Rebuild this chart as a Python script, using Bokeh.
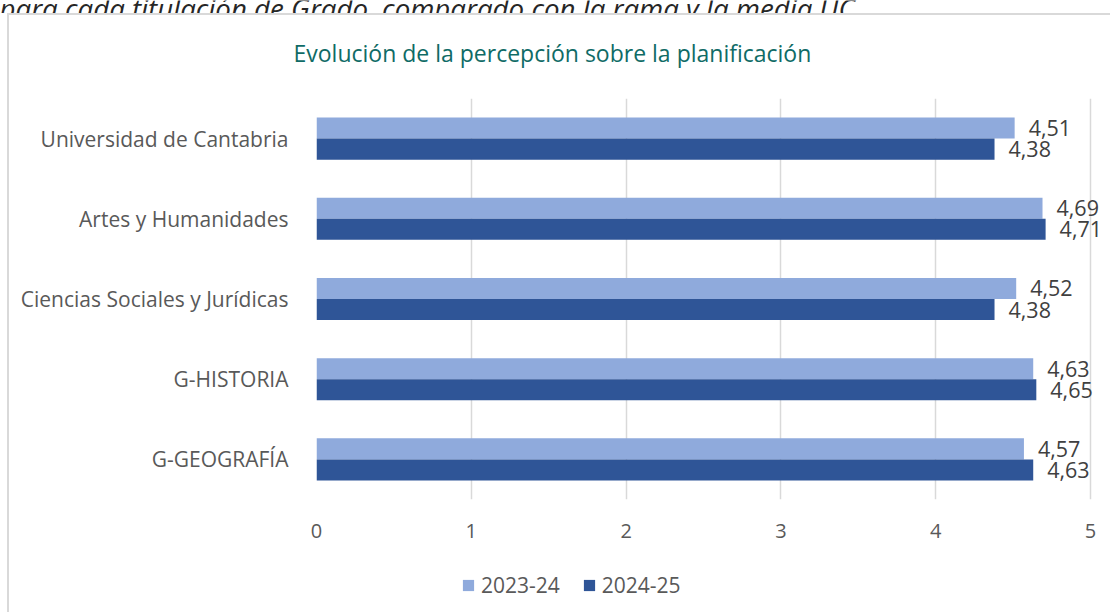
from bokeh.plotting import figure
from bokeh.models import (Range1d, FactorRange, Label, Legend, LegendItem,
                          ColumnDataSource, LabelSet, FixedTicker)
from bokeh.transform import dodge
from bokeh.embed import file_html
from bokeh.resources import INLINE
from bokeh.core.properties import value

# ---- data ----
categories = ["Universidad de Cantabria", "Artes y Humanidades",
              "Ciencias Sociales y Jurídicas", "G-HISTORIA", "G-GEOGRAFÍA"]
v2324 = [4.51, 4.69, 4.52, 4.63, 4.57]
v2425 = [4.38, 4.71, 4.38, 4.65, 4.63]
series = ["2023-24", "2024-25"]
x_ticks = [0, 1, 2, 3, 4, 5]
chart_title = "Evolución de la percepción sobre la planificación"
caption = "para cada titulación de Grado, comparado con la rama y la media UC."

FONT = "Open Sans"
LIGHT = "#8faadc"
DARK = "#2f5597"
GREY = "#595959"
BORDER = "2px solid #d9d9d9"


def strip(width, height, styles=None):
    f = figure(width=width, height=height, output_backend="svg", toolbar_location=None,
               x_range=Range1d(0, width), y_range=Range1d(0, height),
               x_axis_type=None, y_axis_type=None, min_border=0)
    f.grid.visible = False
    f.outline_line_color = None
    if styles:
        f.styles = styles
    return f


src = ColumnDataSource(dict(
    cat=categories, a=v2324, b=v2425,
    la=[f"{v:.2f}".replace(".", ",") for v in v2324],
    lb=[f"{v:.2f}".replace(".", ",") for v in v2425],
))

OX = 9          # page x of the boxed canvases
W = 1103

# ---- cut-off caption strip at the top of the page (page y 0..13) ----
CH = 13
cap = strip(1112, CH)
cap.add_layout(Label(x=-1, y=CH - 7, text=caption, text_align="left",
                     text_baseline="alphabetic", text_font_style="italic",
                     text_font=FONT, text_font_size="27.7px", text_color="#262626"))

# ---- title strip, top of the bordered box (page y 15..100) ----
TY0, TH = 15, 85
tf = strip(W, TH, {"margin-left": "7px", "border-left": BORDER, "border-top": BORDER})
tf.add_layout(Label(x=293 - OX, y=TH - (52 - TY0), text=chart_title, text_align="left",
                    text_baseline="alphabetic", text_font=FONT, text_font_size="23px",
                    text_color="#0f6b66"))

# ---- main chart (page y 100..560) ----
MY0, H = TY0 + TH, 460
FL, FR, FB = 316 - OX, 1090 - OX, 501 - MY0
px_per_unit = (FR - FL) / 5
p = figure(width=W, height=H, output_backend="svg", toolbar_location=None,
           x_range=Range1d(0, 5 + (W - FR) / px_per_unit),
           y_range=FactorRange(*reversed(categories)),
           min_border_left=FL, min_border_right=0,
           min_border_top=0, min_border_bottom=H - FB)
p.styles = {"margin-left": "7px", "border-left": BORDER}
p.outline_line_color = None

BH = 0.2625
r1 = p.hbar(y=dodge("cat", BH / 2, range=p.y_range), left=0, right="a", height=BH,
            source=src, fill_color=LIGHT, line_color=None)
r2 = p.hbar(y=dodge("cat", -BH / 2, range=p.y_range), left=0, right="b", height=BH,
            source=src, fill_color=DARK, line_color=None)

for fld, txt, off in (("a", "la", BH / 2), ("b", "lb", -BH / 2)):
    p.add_layout(LabelSet(x=fld, y=dodge("cat", off, range=p.y_range), text=txt, source=src,
                          x_offset=14, text_baseline="middle", text_align="left",
                          text_font=value(FONT), text_font_size="21.5px", text_color="#404040"))

p.xaxis.ticker = FixedTicker(ticks=x_ticks)
p.xaxis.axis_line_color = None
p.xaxis.major_tick_line_color = None
p.xaxis.minor_tick_line_color = None
p.xaxis.major_label_text_font = FONT
p.xaxis.major_label_text_font_size = "20px"
p.xaxis.major_label_text_color = GREY
p.xaxis.major_label_standoff = 18

p.yaxis.axis_line_color = None
p.yaxis.major_tick_line_color = None
p.yaxis.minor_tick_line_color = None
p.yaxis.major_label_text_font = FONT
p.yaxis.major_label_text_font_size = "21px"
p.yaxis.major_label_text_color = GREY
p.yaxis.major_label_standoff = 22

p.ygrid.grid_line_color = None
p.xgrid.grid_line_color = "#d9d9d9"
p.xgrid.grid_line_width = 1.5

# ---- legend strip, bottom of the bordered box (page y 560..614) ----
LY0 = MY0 + H
LH = 614 - LY0
lf = strip(W, LH, {"margin-left": "7px", "border-left": BORDER})
# swatch renderers kept outside the strip's visible range (legend keys only)
k1 = lf.quad(left=[-20], right=[-10], bottom=[-20], top=[-10], fill_color=LIGHT, line_color=None)
k2 = lf.quad(left=[-20], right=[-10], bottom=[-20], top=[-10], fill_color=DARK, line_color=None)
legend = Legend(items=[LegendItem(label=series[0], renderers=[k1]),
                       LegendItem(label=series[1], renderers=[k2])],
                orientation="horizontal", location=(461 - OX, 13.5),
                glyph_width=14, glyph_height=14, label_standoff=6, spacing=22,
                padding=0, margin=0, border_line_color=None, background_fill_alpha=0,
                label_text_font=FONT, label_text_font_size="21px", label_text_color=GREY)
lf.add_layout(legend)

open("out.html", "w").write(file_html([cap, tf, p, lf], INLINE))
